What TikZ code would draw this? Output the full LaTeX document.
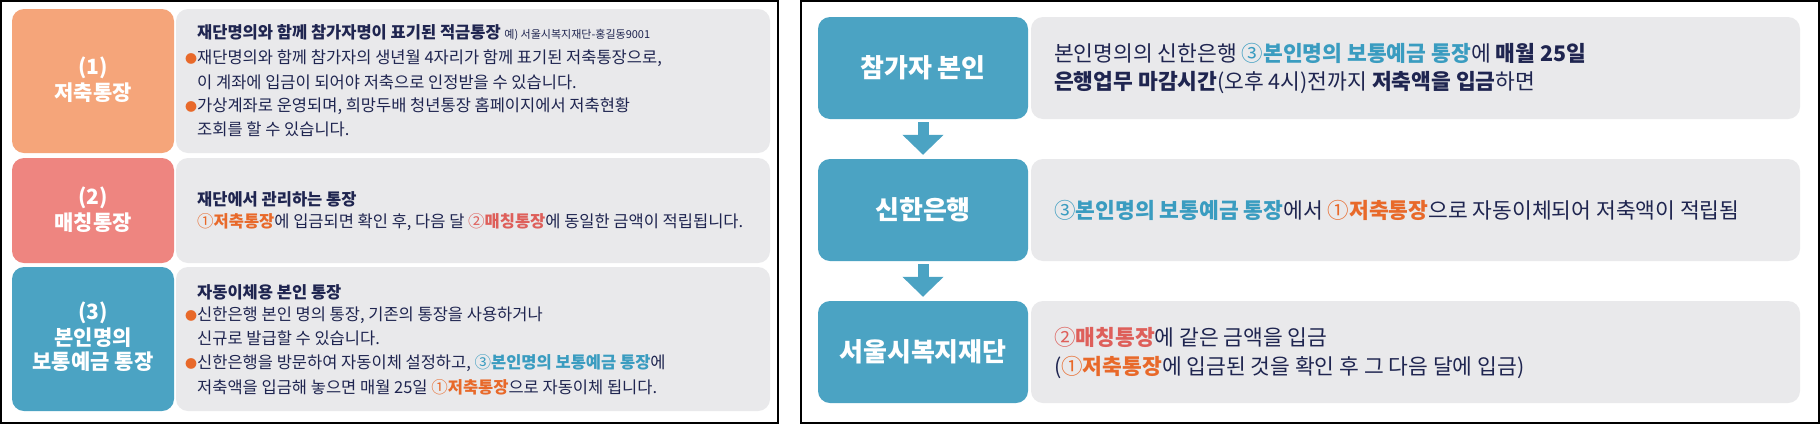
\documentclass[tikz,border=0pt]{standalone}
\usepackage{fontspec}
\setmainfont{Noto Sans CJK KR}
\usetikzlibrary{arrows.meta}
\definecolor{cor}{HTML}{F5A57A}
\definecolor{cpk}{HTML}{EE8580}
\definecolor{cbl}{HTML}{4BA3C3}
\definecolor{cgr}{HTML}{E9E9EB}
\definecolor{navy}{HTML}{1F2550}
\definecolor{hor}{HTML}{E8692A}
\definecolor{hpk}{HTML}{DE5F5A}
\definecolor{hbl}{HTML}{3A9CC0}
\newcommand{\bul}{\llap{\textcolor{hor}{\fontsize{12}{12}\selectfont●}}}
\begin{document}
\begin{tikzpicture}[x=1pt,y=-1pt,
  box/.style={rounded corners=12pt,inner sep=0pt},
  lab/.style={text=white,font=\bfseries\fontsize{21}{21}\selectfont,align=center},
  rlab/.style={text=white,font=\bfseries\fontsize{26}{26}\selectfont,align=center},
  lt/.style={anchor=west,inner sep=0pt,text=navy,font=\fontsize{16.5}{16.5}\selectfont},
  rt/.style={anchor=west,inner sep=0pt,text=navy,font=\fontsize{21.5}{21.5}\selectfont},
  flow/.style={draw=cbl,line width=11pt,-{Triangle[width=40pt,length=20pt]},shorten <=3pt,shorten >=4pt}]
\fill[white] (0,0) rectangle (1820,424);
\draw[line width=1.5pt] (1,1) rectangle (778,423);
\draw[line width=1.5pt] (801,1) rectangle (1819,423);
% left boxes
\fill[cor,box] (12,9) rectangle (174,153);
\fill[cgr,box] (176,9) rectangle (770,153);
\fill[cpk,box] (12,158) rectangle (174,263);
\fill[cgr,box] (176,158) rectangle (770,263);
\fill[cbl,box] (12,267) rectangle (174,411);
\fill[cgr,box] (176,267) rectangle (770,411);
\node[lab] (l1) at (93,80) {(1)\\[3pt]저축통장};
\node[lab] (l2) at (93,210) {(2)\\[3pt]매칭통장};
\node[lab] (l3) at (93,337) {(3)\\[3pt]본인명의\\[3pt]보통예금 통장};
\node[lt] (a1) at (197,33) {\textbf{재단명의와 함께 참가자명이 표기된 적금통장} {\fontsize{11}{11}\selectfont 예) 서울시복지재단-홍길동9001}};
\node[lt] (a2) at (197,58) {\bul 재단명의와 함께 참가자의 생년월 4자리가 함께 표기된 저축통장으로,};
\node[lt] (a3) at (197,82) {이 계좌에 입금이 되어야 저축으로 인정받을 수 있습니다.};
\node[lt] (a4) at (197,106) {\bul 가상계좌로 운영되며, 희망두배 청년통장 홈페이지에서 저축현황};
\node[lt] (a5) at (197,129) {조회를 할 수 있습니다.};
\node[lt] (b1) at (197,199) {\textbf{재단에서 관리하는 통장}};
\node[lt] (b2) at (197,222) {\textcolor{hor}{①\textbf{저축통장}}에 입금되면 확인 후, 다음 달 \textcolor{hpk}{②\textbf{매칭통장}}에 동일한 금액이 적립됩니다.};
\node[lt] (c1) at (197,292) {\textbf{자동이체용 본인 통장}};
\node[lt] (c2) at (197,315) {\bul 신한은행 본인 명의 통장, 기존의 통장을 사용하거나};
\node[lt] (c3) at (197,338) {신규로 발급할 수 있습니다.};
\node[lt] (c4) at (197,363) {\bul 신한은행을 방문하여 자동이체 설정하고, \textcolor{hbl}{③\textbf{본인명의 보통예금 통장}}에};
\node[lt] (c5) at (197,387) {저축액을 입금해 놓으면 매월 25일 \textcolor{hor}{①\textbf{저축통장}}으로 자동이체 됩니다.};
% right
\fill[cbl,box] (818,17) rectangle (1028,119);
\fill[cgr,box] (1031,17) rectangle (1800,119);
\fill[cbl,box] (818,159) rectangle (1028,261);
\fill[cgr,box] (1031,159) rectangle (1800,261);
\fill[cbl,box] (818,301) rectangle (1028,403);
\fill[cgr,box] (1031,301) rectangle (1800,403);
\node[rlab,minimum width=210pt,minimum height=102pt] (r1) at (923,68) {참가자 본인};
\node[rlab,minimum width=210pt,minimum height=102pt] (r2) at (923,210) {신한은행};
\node[rlab,minimum width=210pt,minimum height=102pt] (r3) at (923,352) {서울시복지재단};
\draw[flow] (r1.south) -- (r2.north);
\draw[flow] (r2.south) -- (r3.north);
\node[rt] (s1) at (1054,53) {본인명의의 신한은행 \textcolor{hbl}{③\textbf{본인명의 보통예금 통장}}에 \textbf{매월 25일}};
\node[rt] (s2) at (1054,83) {\textbf{은행업무 마감시간}(오후 4시)전까지 \textbf{저축액을 입금}하면};
\node[rt] (t1) at (1054,210) {\textcolor{hbl}{③\textbf{본인명의 보통예금 통장}}에서 \textcolor{hor}{①\textbf{저축통장}}으로 자동이체되어 저축액이 적립됨};
\node[rt] (u1) at (1054,337) {\textcolor{hpk}{②\textbf{매칭통장}}에 같은 금액을 입금};
\node[rt] (u2) at (1054,368) {(\textcolor{hor}{①\textbf{저축통장}}에 입금된 것을 확인 후 그 다음 달에 입금)};
\end{tikzpicture}
\end{document}
